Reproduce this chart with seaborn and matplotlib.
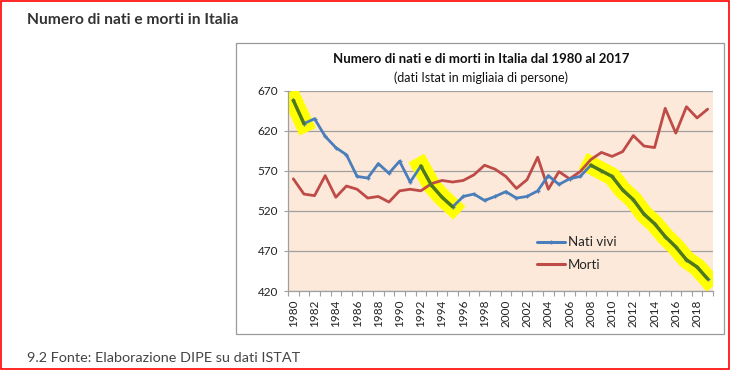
import numpy as np
import pandas as pd
import matplotlib
matplotlib.use("Agg")
import matplotlib.pyplot as plt
import seaborn as sns
from matplotlib.patches import Rectangle
from matplotlib.lines import Line2D

# ---------------- data ----------------
years = list(range(1980, 2020))
nati_vivi = [658, 629, 635, 613, 599, 590, 563, 561, 579, 567,
             582, 556, 576, 552, 537, 525, 538, 541, 533, 538,
             544, 536, 538, 545, 564, 553, 560, 563, 577, 570,
             563, 546, 534, 516, 504, 488, 475, 459, 450, 435]
morti = [560, 541, 539, 564, 537, 551, 547, 536, 538, 531,
         545, 547, 545, 554, 558, 556, 558, 565, 577, 572,
         563, 548, 559, 587, 547, 569, 560, 569, 584, 593,
         588, 594, 614, 601, 599, 648, 617, 650, 636, 647]
highlight_ranges = [(1980, 1981), (1992, 1995), (2008, 2019)]
y_ticks = [420, 470, 520, 570, 620, 670]
x_tick_years = years[::2]
series_names = ["Nati vivi", "Morti"]

page_title = "Numero di nati e morti in Italia"
chart_title = "Numero di nati e di morti in Italia dal 1980 al 2017"
chart_subtitle = "(dati Istat in migliaia di persone)"
caption = "9.2 Fonte: Elaborazione DIPE su dati ISTAT"

df = pd.DataFrame({
    "Anno": years * 2,
    "Valore": nati_vivi + morti,
    "Serie": [series_names[0]] * len(years) + [series_names[1]] * len(years),
})

# ---------------- style ----------------
sns.set_theme(style="white")
plt.rcParams["font.family"] = ["Lato", "DejaVu Sans"]

BLUE = "#4a7ebb"
RED = "#be4b48"
GREEN = "#4e7a1b"
YELLOW = "#ffff00"
PEACH = "#fde9d9"
GRID = "#a0a0a0"

fig = plt.figure(figsize=(7.3, 3.7), dpi=100)
fig.patch.set_facecolor("white")

# red page border
fig.add_artist(Rectangle((0.001, 0.004), 0.997, 0.994, transform=fig.transFigure,
                         fill=False, edgecolor="#ff0000", lw=1.2, zorder=0))
# chart box
fig.add_artist(Rectangle((236 / 730, 36 / 370), (724 - 236) / 730, (334 - 43) / 370,
                         transform=fig.transFigure, fill=False,
                         edgecolor="#9a9a9a", lw=0.9, zorder=0))

ax = fig.add_axes([288 / 730, 79 / 370, 425 / 730, 200.3 / 370])
ax.set_facecolor(PEACH)

# yellow highlights
nati_s = df[df["Serie"] == series_names[0]]
for a, b in highlight_ranges:
    seg = nati_s[(nati_s["Anno"] >= a) & (nati_s["Anno"] <= b)]
    sns.lineplot(data=seg, x="Anno", y="Valore", color=YELLOW, lw=13,
                 solid_capstyle="projecting", solid_joinstyle="round",
                 ax=ax, zorder=2, legend=False)

# main series
sns.lineplot(data=df[df["Serie"] == series_names[1]], x="Anno", y="Valore",
             color=RED, lw=2.0, ax=ax, zorder=3, legend=False)
sns.lineplot(data=nati_s, x="Anno", y="Valore", color=BLUE, lw=2.0,
             marker="+", markersize=3, markeredgewidth=1.0,
             markeredgecolor=BLUE, ax=ax, zorder=3, legend=False)

# green overlays
for a, b in highlight_ranges:
    seg = nati_s[(nati_s["Anno"] >= a) & (nati_s["Anno"] <= b)]
    sns.lineplot(data=seg, x="Anno", y="Valore", color=GREEN, lw=2.4,
                 ax=ax, zorder=4, legend=False)

# axes
ax.set_xlim(years[0] - 0.5, years[-1] + 0.5)
ax.set_ylim(y_ticks[0], y_ticks[-1])
ax.set_yticks(y_ticks)
ax.set_yticklabels([str(v) for v in y_ticks])
ax.set_xticks(x_tick_years)
ax.set_xticklabels([str(y) for y in x_tick_years], rotation=90)
ax.set_xticks(np.arange(years[0] - 0.5, years[-1] + 1.0, 1.0), minor=True)
ax.tick_params(axis="x", which="major", length=0, pad=6, labelsize=8.5,
               labelcolor="#222222")
ax.tick_params(axis="x", which="minor", length=3.5, width=0.8, color=GRID,
               direction="out", bottom=True)
ax.tick_params(axis="y", which="major", length=3, width=0.8, color=GRID,
               direction="out", left=True, pad=4, labelsize=8.5,
               labelcolor="#222222")
ax.yaxis.grid(True, color=GRID, lw=0.9)
ax.xaxis.grid(False)
ax.set_axisbelow(True)
for s in ["top", "right"]:
    ax.spines[s].set_visible(False)
for s in ["left", "bottom"]:
    ax.spines[s].set_color(GRID)
    ax.spines[s].set_linewidth(0.9)
ax.set_xlabel("")
ax.set_ylabel("")

# legend
handles = [Line2D([0], [0], color=BLUE, lw=2.2, marker="+", markersize=3,
                  markeredgewidth=1.0),
           Line2D([0], [0], color=RED, lw=2.2)]
ax.legend(handles, series_names, loc="upper left", bbox_to_anchor=(0.565, 0.32),
          frameon=False, fontsize=9.5, handlelength=2.1, handletextpad=0.2,
          labelspacing=0.8, borderpad=0.2)

# texts
fig.text(481 / 730, 1 - 59 / 370, chart_title, ha="center", va="center",
         fontsize=9.5, fontweight="bold", color="#111111")
fig.text(481 / 730, 1 - 78 / 370, chart_subtitle, ha="center", va="center",
         fontsize=9, color="#111111")
fig.text(27 / 730, 1 - 20 / 370, page_title, ha="left", va="center",
         fontsize=11.2, fontweight="bold", color="#333333")
fig.text(27 / 730, 1 - 358 / 370, caption, ha="left", va="center",
         fontsize=10.4, color="#444444")

fig.savefig("out.png", dpi=100, facecolor="white")
